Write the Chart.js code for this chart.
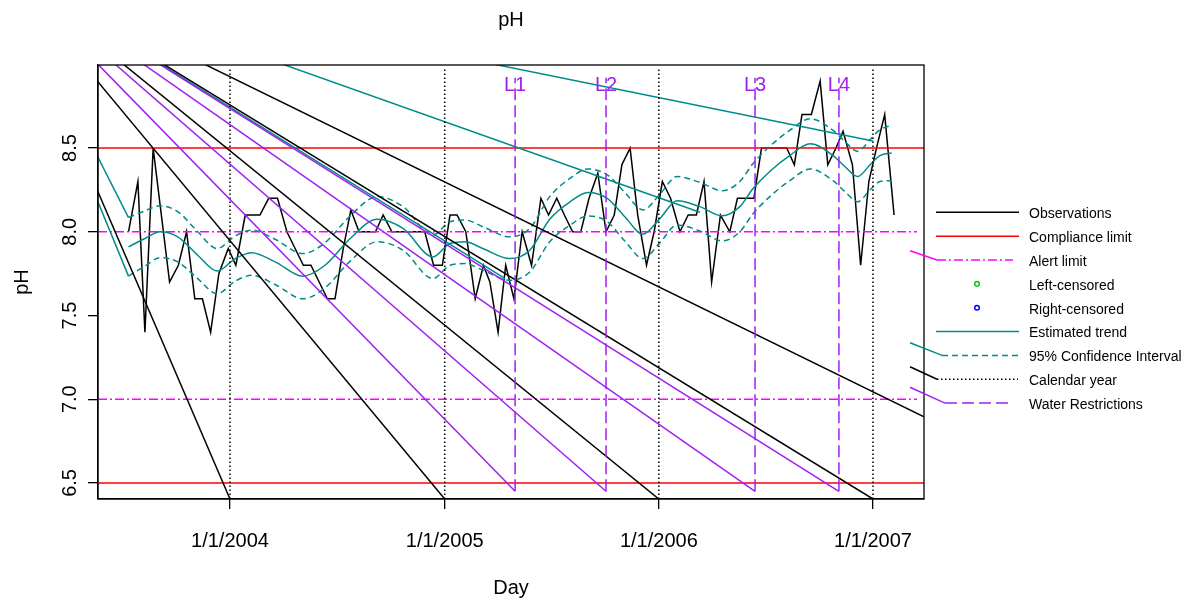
<!DOCTYPE html>
<html><head><meta charset="utf-8">
<script src="https://cdn.jsdelivr.net/npm/chart.js@4.4.1/dist/chart.umd.min.js"></script>
<style>html,body{margin:0;padding:0;background:#fff;}#wrap{width:1196px;height:600px;position:relative;}canvas{display:block;}</style>
</head><body><div id="wrap"><canvas id="c" width="1196" height="600" style="width:1196px;height:600px;"></canvas></div>
<script>
// x values are days since 1/1/2004
const obsDays = [-173,-157,-145,-131,-103,-88,-74,-60,-47,-33,-19,-3,10,26,38,51,66,81,97,111,125,138,152,166,179,193,206,220,234,248,261,276,290,303,318,332,347,362,375,387,402,418,432,443,457,470,484,498,514,530,543,557,570,584,598,612,627,641,655,668,682,695,710,723,737,751,767,781,795,808,821,836,852,865,879,893,906,920,934,949,962,975,991,1006,1019,1033,1045,1061,1075,1089,1102,1116,1132];
const obsValues = [8.0,8.3,7.4,8.5,7.7,7.8,8.0,7.6,7.6,7.4,7.75,7.9,7.8,8.1,8.1,8.1,8.2,8.2,8.0,7.9,7.8,7.8,7.7,7.6,7.6,7.9,8.13,8.0,8.0,8.0,8.1,8.0,8.0,8.0,8.0,8.0,7.8,7.8,8.1,8.1,8.0,7.6,7.8,7.7,7.4,7.8,7.6,8.0,7.8,8.2,8.1,8.2,8.1,8.0,8.0,8.2,8.35,8.0,8.1,8.4,8.5,8.1,7.8,8.0,8.3,8.2,8.0,8.1,8.1,8.3,7.7,8.1,8.0,8.2,8.2,8.2,8.5,8.5,8.5,8.5,8.4,8.7,8.7,8.9,8.4,8.5,8.6,8.4,7.8,8.3,8.5,8.7,8.1];
const trendDays = [-173,-145,-119,-89,-55,-22,9,37,77,124,162,205,251,295,346,375,401,431,477,511,545,580,610,643,673,704,733,762,801,839,869,891,920,954,989,1028,1048,1070,1091,1108,1128];
const trendValues = [7.91,7.96,8.00,7.97,7.86,7.765,7.84,7.875,7.82,7.735,7.80,7.96,8.075,8.02,7.85,7.93,7.94,7.90,7.84,7.89,8.075,8.18,8.235,8.20,8.09,7.985,8.08,8.185,8.15,8.095,8.15,8.255,8.36,8.455,8.525,8.455,8.39,8.33,8.40,8.455,8.47];
const ciUpper = [8.085,8.125,8.155,8.12,8.00,7.90,7.975,8.01,7.955,7.87,7.935,8.095,8.21,8.15,7.98,8.06,8.07,8.03,7.97,8.02,8.21,8.32,8.375,8.34,8.235,8.13,8.225,8.33,8.295,8.245,8.30,8.405,8.51,8.605,8.675,8.605,8.54,8.48,8.55,8.61,8.635];
const ciLower = [7.735,7.795,7.845,7.82,7.72,7.63,7.705,7.74,7.685,7.60,7.665,7.825,7.94,7.89,7.72,7.80,7.81,7.77,7.71,7.76,7.94,8.04,8.095,8.06,7.945,7.84,7.935,8.04,8.005,7.945,8.00,8.105,8.21,8.305,8.375,8.305,8.24,8.18,8.25,8.30,8.305];
const complianceLimits = [8.5, 6.5];
const alertLimits = [8.0, 7.0];
const yearDays = [0, 366, 731, 1096];
const yearLabels = ['1/1/2004', '1/1/2005', '1/1/2006', '1/1/2007'];
const restrictionDays = [486, 641, 895, 1038];
const restrictionLabels = ['L1', 'L2', 'L3', 'L4'];
const yTickValues = [6.5, 7.0, 7.5, 8.0, 8.5];
const yTickLabels = ['6.5', '7.0', '7.5', '8.0', '8.5'];
const legendLabels = ['Observations', 'Compliance limit', 'Alert limit', 'Left-censored', 'Right-censored', 'Estimated trend', '95% Confidence Interval', 'Calendar year', 'Water Restrictions'];
// stray connector lines present in the source figure (common start, various ends)
const strayStart = {x: -392, y: 9.599};
const strayBlackExtraEnds = [{x: 1183, y: 6.895}];
const strayTealEnds = [{x: -173, y: 8.085}, {x: -173, y: 7.735}, {x: 469, y: 7.72}, {x: 801, y: 8.117}, {x: 1096, y: 8.542}];

const X_MIN = -225, X_MAX = 1183, Y_MIN = 6.404, Y_MAX = 8.996;
const LIM_X_END = 1171, YEAR_TOP = 8.97, REST_BOTTOM = 6.45, REST_TOP = 8.92;

const TEAL = '#008B8B', PURPLE = '#A020F0', MAG = '#FF00FF', RED = '#FF0000';
const LW = 1.5;
const FONT = '"Liberation Sans", Arial, Helvetica, sans-serif';

const drawList = [];
function addLine(points, color, dash, opts) {
  drawList.push(Object.assign({data: points, borderColor: color, borderDash: dash || [], borderWidth: LW,
    pointRadius: 0, pointHoverRadius: 0, fill: false, tension: 0, clip: 0}, opts || {}));
}
addLine(obsDays.map((d, i) => ({x: d, y: obsValues[i]})), '#000');
complianceLimits.forEach(v => addLine([{x: X_MIN, y: v}, {x: X_MAX, y: v}], RED));
alertLimits.forEach(v => addLine([{x: X_MIN, y: v}, {x: LIM_X_END, y: v}], MAG, [9, 3, 2, 3]));
addLine(trendDays.map((d, i) => ({x: d, y: trendValues[i]})), TEAL, [], {cubicInterpolationMode: 'monotone'});
addLine(trendDays.map((d, i) => ({x: d, y: ciUpper[i]})), TEAL, [6, 4], {cubicInterpolationMode: 'monotone'});
addLine(trendDays.map((d, i) => ({x: d, y: ciLower[i]})), TEAL, [6, 4], {cubicInterpolationMode: 'monotone'});
strayTealEnds.forEach(p => addLine([strayStart, p], TEAL));
yearDays.forEach(d => addLine([{x: d, y: Y_MIN}, {x: d, y: YEAR_TOP}], '#000', [1.5, 2.5]));
yearDays.forEach(d => addLine([strayStart, {x: d, y: Y_MIN}], '#000'));
strayBlackExtraEnds.forEach(p => addLine([strayStart, p], '#000'));
restrictionDays.forEach(d => addLine([{x: d, y: REST_BOTTOM}, {x: d, y: REST_TOP}], PURPLE, [12, 5]));
restrictionDays.forEach(d => addLine([strayStart, {x: d, y: REST_BOTTOM}], PURPLE));

const datasets = drawList.slice().reverse();

const legendStyles = [
  {type: 'line', color: '#000', dash: [], x0: 936, x1: 1019},
  {type: 'line', color: RED, dash: [], x0: 936, x1: 1019},
  {type: 'line', color: MAG, dash: [9, 3, 2, 3], x0: 937, x1: 1013, slant: 250.7},
  {type: 'point', color: '#00CD00'},
  {type: 'point', color: '#0000FF'},
  {type: 'line', color: TEAL, dash: [], x0: 936, x1: 1019},
  {type: 'line', color: TEAL, dash: [6, 4], x0: 942, x1: 1018, slant: 342.7},
  {type: 'line', color: '#000', dash: [1.5, 2.5], x0: 937, x1: 1018, slant: 366.7},
  {type: 'line', color: PURPLE, dash: [12, 5], x0: 945, x1: 1011, slant: 387.3}
];

const decor = {
  id: 'decor',
  afterDatasetsDraw(chart) {
    const {ctx, chartArea: a, scales: {x, y}} = chart;
    ctx.save();
    ctx.fillStyle = PURPLE;
    ctx.font = '20px ' + FONT;
    ctx.textAlign = 'center';
    ctx.textBaseline = 'middle';
    restrictionDays.forEach((d, i) => ctx.fillText(restrictionLabels[i], x.getPixelForValue(d), y.getPixelForValue(REST_TOP) + 8));
    ctx.strokeStyle = '#000';
    ctx.lineWidth = 1.3;
    ctx.setLineDash([]);
    ctx.strokeRect(a.left, a.top, a.right - a.left, a.bottom - a.top);
    const y0 = 212.3, dy = 23.85;
    legendStyles.forEach((s, i) => {
      const yy = y0 + i * dy;
      ctx.strokeStyle = s.color;
      ctx.lineWidth = LW;
      if (s.type === 'line') {
        if (s.slant !== undefined) {
          ctx.setLineDash([]);
          ctx.beginPath(); ctx.moveTo(910, s.slant); ctx.lineTo(s.x0, yy); ctx.stroke();
        }
        ctx.setLineDash(s.dash);
        ctx.beginPath(); ctx.moveTo(s.x0, yy); ctx.lineTo(s.x1, yy); ctx.stroke();
      } else {
        ctx.setLineDash([]);
        ctx.beginPath(); ctx.arc(977, yy, 2.3, 0, Math.PI * 2); ctx.stroke();
      }
      ctx.fillStyle = '#000';
      ctx.font = '14px ' + FONT;
      ctx.textAlign = 'left';
      ctx.textBaseline = 'middle';
      ctx.fillText(legendLabels[i], 1029, yy + 2);
    });
    ctx.restore();
  }
};

Chart.defaults.font.family = FONT;
Chart.defaults.color = '#000';

new Chart(document.getElementById('c'), {
  type: 'line',
  data: {datasets},
  options: {
    responsive: false,
    animation: false,
    events: [],
    layout: {padding: {left: 0, right: 272, top: 0, bottom: 0}},
    plugins: {
      legend: {display: false},
      tooltip: {enabled: false},
      title: {display: true, text: 'pH', fullSize: false, color: '#000',
        font: {size: 20, weight: 'normal', family: FONT}, padding: {top: 8, bottom: 33}}
    },
    scales: {
      x: {
        type: 'linear', min: X_MIN, max: X_MAX,
        afterBuildTicks: s => { s.ticks = yearDays.map(v => ({value: v})); },
        afterFit: s => { s.height = 101; },
        ticks: {autoSkip: false, maxRotation: 0, minRotation: 0, padding: 20, color: '#000',
          font: {size: 20}, callback: v => yearLabels[yearDays.indexOf(v)]},
        grid: {display: true, drawOnChartArea: false, drawTicks: true, tickLength: 10, color: '#000', lineWidth: 1.3},
        border: {display: true, color: '#000', width: 1.3},
        title: {display: true, text: 'Day', font: {size: 20}, color: '#000', padding: {top: 0, bottom: 0}}
      },
      y: {
        type: 'linear', min: Y_MIN, max: Y_MAX,
        afterBuildTicks: s => { s.ticks = yTickValues.map(v => ({value: v})); },
        afterFit: s => { s.width = 98; },
        ticks: {autoSkip: false, minRotation: 90, maxRotation: 90, crossAlign: 'center', padding: 4, color: '#000',
          font: {size: 20}, callback: v => yTickLabels[yTickValues.indexOf(v)]},
        grid: {display: true, drawOnChartArea: false, drawTicks: true, tickLength: 10, color: '#000', lineWidth: 1.3},
        border: {display: true, color: '#000', width: 1.3},
        title: {display: true, text: 'pH', font: {size: 20}, color: '#000', padding: {top: 10, bottom: 0}}
      }
    }
  },
  plugins: [decor]
});
</script></body></html>
